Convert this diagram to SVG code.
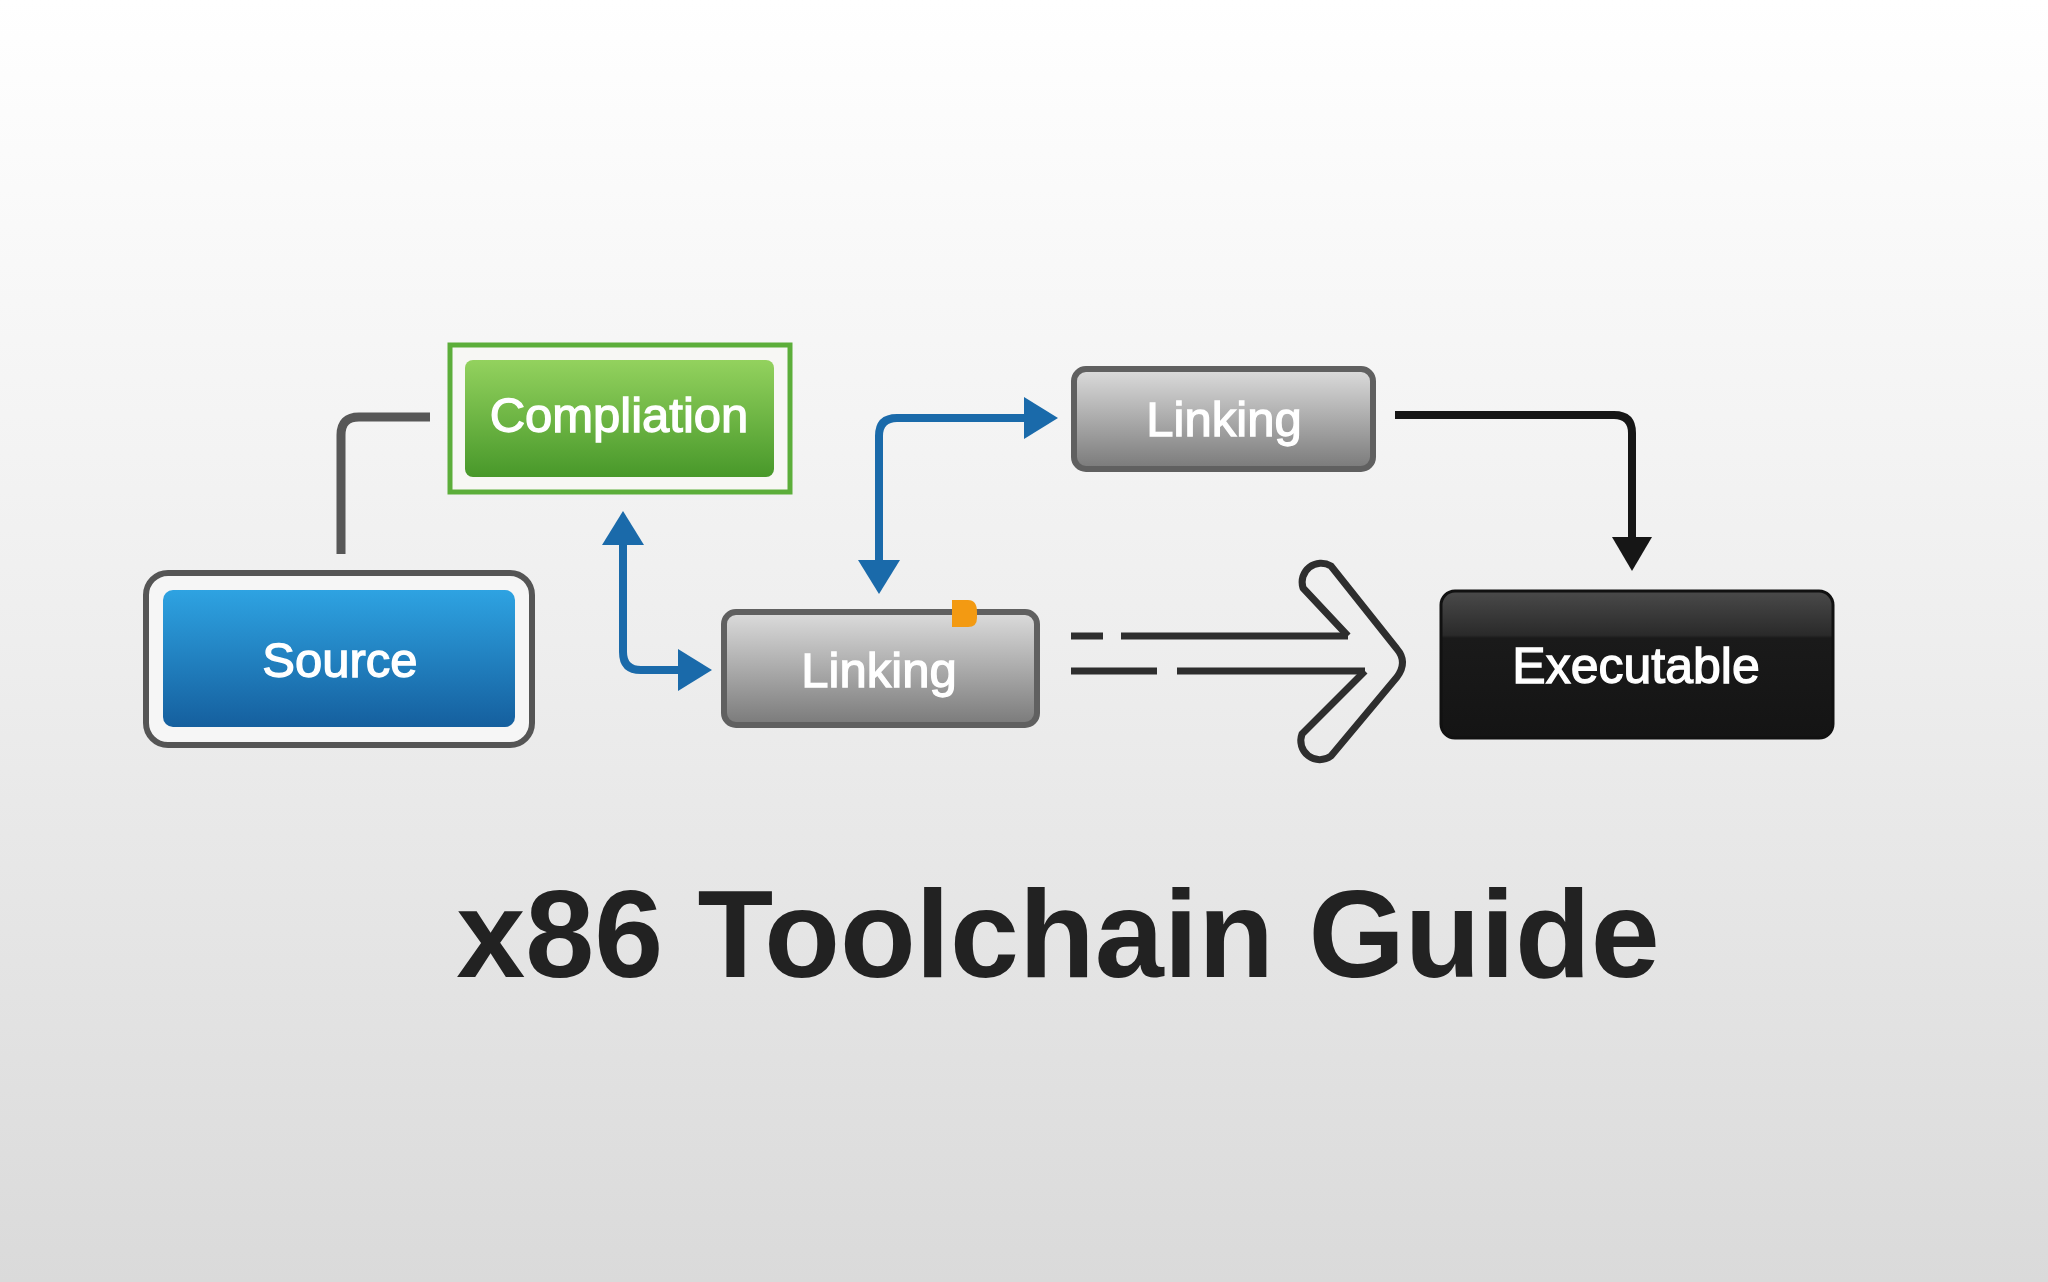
<svg xmlns="http://www.w3.org/2000/svg" width="2048" height="1282" viewBox="0 0 2048 1282">
<defs>
<linearGradient id="bg" x1="0" y1="0" x2="0" y2="1">
<stop offset="0" stop-color="#ffffff"/>
<stop offset="0.5" stop-color="#eeeeee"/>
<stop offset="1" stop-color="#dadada"/>
</linearGradient>
<linearGradient id="gBlue" x1="0" y1="0" x2="0" y2="1">
<stop offset="0" stop-color="#2ea3e2"/>
<stop offset="1" stop-color="#155f9e"/>
</linearGradient>
<linearGradient id="gGreen" x1="0" y1="0" x2="0" y2="1">
<stop offset="0" stop-color="#93d25e"/>
<stop offset="1" stop-color="#48982a"/>
</linearGradient>
<linearGradient id="gGray" x1="0" y1="0" x2="0" y2="1">
<stop offset="0" stop-color="#dcdcdc"/>
<stop offset="1" stop-color="#7a7a7a"/>
</linearGradient>
<linearGradient id="gBlack" x1="0" y1="0" x2="0" y2="1">
<stop offset="0" stop-color="#4a4a4a"/>
<stop offset="0.3" stop-color="#2a2a2a"/>
<stop offset="0.32" stop-color="#1a1a1a"/>
<stop offset="1" stop-color="#141414"/>
</linearGradient>
<marker id="ahBlue" viewBox="0 0 34 42" refX="0" refY="21" markerWidth="34" markerHeight="42" markerUnits="userSpaceOnUse" orient="auto-start-reverse">
<path d="M0,0 L34,21 L0,42 z" fill="#1a6aaa"/>
</marker>
<marker id="ahBlack" viewBox="0 0 34 40" refX="0" refY="20" markerWidth="34" markerHeight="40" markerUnits="userSpaceOnUse" orient="auto">
<path d="M0,0 L34,20 L0,40 z" fill="#161616"/>
</marker>
<style>
.lbl{font-family:"Liberation Sans",Arial,sans-serif;font-weight:normal;fill:#ffffff;stroke:#ffffff;stroke-width:1.3;text-anchor:middle}
.blue{fill:none;stroke:#1a6aaa;stroke-width:8}
.dash{stroke:#2e2e2e;stroke-width:7}
</style>
</defs>
<rect width="2048" height="1282" fill="url(#bg)"/>

<g id="connectors">
<path d="M341,554 L341,435 Q341,417 359,417 L430,417" fill="none" stroke="#575757" stroke-width="9"/>
<path class="blue" d="M623,545 L623,652 Q623,670 641,670 L678,670" marker-start="url(#ahBlue)" marker-end="url(#ahBlue)"/>
<path class="blue" d="M879,560 L879,436 Q879,418 897,418 L1024,418" marker-start="url(#ahBlue)" marker-end="url(#ahBlue)"/>
<path d="M1395,415 L1614,415 Q1632,415 1632,433 L1632,537" fill="none" stroke="#161616" stroke-width="8" marker-end="url(#ahBlack)"/>
<g id="bigArrow">
<line class="dash" x1="1071" y1="636" x2="1103" y2="636"/>
<line class="dash" x1="1121" y1="636" x2="1348" y2="636"/>
<line class="dash" x1="1071" y1="671" x2="1157" y2="671"/>
<line class="dash" x1="1177" y1="671" x2="1365" y2="671"/>
<path d="M1348,636 L1303,588 A19,19 0 0 1 1331,566 L1397,649 Q1408,662 1397,677 L1331,756 A19,19 0 0 1 1302,734 L1365,671" fill="none" stroke="#2e2e2e" stroke-width="7" stroke-linejoin="round"/>
</g>
</g>

<g id="node-source">
<rect x="146" y="573" width="386" height="172" rx="22" fill="#f6f6f6" stroke="#555555" stroke-width="6"/>
<rect x="163" y="590" width="352" height="137" rx="10" fill="url(#gBlue)"/>
<text class="lbl" x="340" y="677" font-size="49">Source</text>
</g>

<g id="node-compilation">
<rect x="450" y="345" width="340" height="147" fill="#f7f7f4" stroke="#5cae3a" stroke-width="5"/>
<rect x="465" y="360" width="309" height="117" rx="8" fill="url(#gGreen)"/>
<text class="lbl" x="619" y="432" font-size="49">Compliation</text>
</g>

<g id="node-linking-bottom">
<rect x="724" y="612" width="313" height="113" rx="12" fill="url(#gGray)" stroke="#606060" stroke-width="6"/>
<path d="M952,600 L968,600 Q977,600 977,612 L977,618 Q977,627 968,627 L952,627 z" fill="#f39a12"/>
<text class="lbl" x="879" y="687" font-size="49">Linking</text>
</g>

<g id="node-linking-top">
<rect x="1074" y="369" width="299" height="100" rx="12" fill="url(#gGray)" stroke="#606060" stroke-width="6"/>
<text class="lbl" x="1224" y="436" font-size="49">Linking</text>
</g>

<g id="node-executable">
<rect x="1441" y="591" width="392" height="147" rx="14" fill="url(#gBlack)" stroke="#111111" stroke-width="3"/>
<text class="lbl" x="1636" y="683" font-size="50">Executable</text>
</g>

<text x="1058" y="977" font-family="Liberation Sans, Arial, sans-serif" font-weight="bold" font-size="124" fill="#222222" text-anchor="middle">x86 Toolchain Guide</text>
</svg>
